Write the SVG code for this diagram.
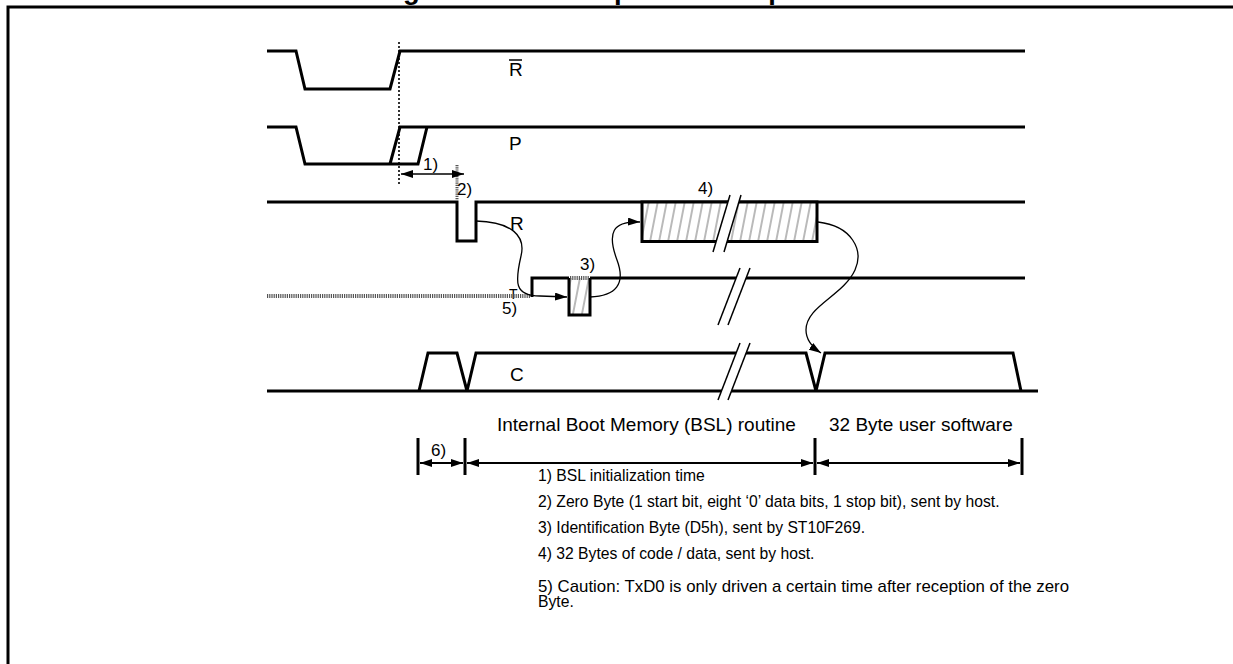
<svg xmlns="http://www.w3.org/2000/svg" width="1233" height="664" viewBox="0 0 1233 664">
<style>
.sig{fill:none;stroke:#000;stroke-width:3;stroke-linejoin:miter}
.thin{fill:none;stroke:#000;stroke-width:1.5}
.gray{fill:none;stroke:#555;stroke-width:4;stroke-dasharray:1.2 1}
.lbl{font-family:"Liberation Sans",Arial,sans-serif;font-size:19px;fill:#000}
.num{font-family:"Liberation Sans",Arial,sans-serif;font-size:17px;fill:#000}
.note{font-family:"Liberation Sans",Arial,sans-serif;font-size:15.7px;fill:#000}
.title{font-family:"Liberation Sans",Arial,sans-serif;font-size:27.5px;font-weight:bold;fill:#000}
.brk{fill:#fff;stroke:none}
</style>
<defs>
<pattern id="hatch" patternUnits="userSpaceOnUse" width="9" height="60" patternTransform="skewX(-11)">
<rect width="9" height="60" fill="#fff"/>
<line x1="4" y1="0" x2="4" y2="60" stroke="#666" stroke-width="0.9"/>
</pattern>
<marker id="ah" viewBox="0 0 12 8" refX="12" refY="4" markerWidth="12" markerHeight="8" markerUnits="userSpaceOnUse" orient="auto-start-reverse">
<path d="M0,0 L12,4 L0,8 Z" fill="#000"/>
</marker>
</defs>
<rect width="1233" height="664" fill="#fff"/>
<text class="title" x="617" y="-1.5" text-anchor="middle">Figure 7. Bootstrap loader sequence</text>
<path d="M8,664 V7 H1233" fill="none" stroke="#000" stroke-width="3"/>

<g id="sig-rstin">
<path class="sig" d="M267,51 H296 L305,89 H390 L400,51 H1025"/>
<text class="lbl" x="509" y="76">R</text>
<line x1="509" y1="60" x2="522" y2="60" stroke="#000" stroke-width="1.5"/>
</g>

<g id="sig-p">
<path class="sig" d="M267,127 H296 L305,164 H418 L427,127"/>
<path class="sig" d="M390,164 L400,127 H1025"/>
<text class="lbl" x="509" y="150">P</text>
</g>

<g id="sig-r">
<path class="sig" d="M267,202 H457 V241 H476 V202 H1025"/>
<rect x="642" y="202" width="175" height="39.5" fill="url(#hatch)" stroke="#000" stroke-width="3"/>
<text class="lbl" x="510" y="230">R</text>
</g>

<g id="sig-t">
<text x="509" y="299" font-family="'Liberation Sans',Arial,sans-serif" font-size="14">T</text>
<line class="gray" x1="267" y1="296" x2="531" y2="296"/>
<rect x="569" y="278" width="21" height="37" fill="url(#hatch)" stroke="none"/>
<path class="sig" d="M532,297 V278 H569 M569,278 V315 H590 V278 M590,278 H1025"/>
<line class="gray" x1="570" y1="278" x2="589" y2="278" stroke-width="3"/>
</g>

<g id="sig-c">
<path class="sig" d="M267,391 H1038"/>
<path class="sig" d="M419,391 L428,353 H457 L467,391 L476,353 H806 L816,391 L825,353 H1013 L1021,391"/>
<text class="lbl" x="510" y="381">C</text>
</g>

<g id="breaks">
<polygon class="brk" points="730,195 741,195 724,252 713,252"/>
<line class="thin" x1="730" y1="195" x2="713" y2="252"/>
<line class="thin" x1="741" y1="195" x2="724" y2="252"/>
<polygon class="brk" points="740,268 750,268 728,325 718,325"/>
<line class="thin" x1="740" y1="268" x2="718" y2="325"/>
<line class="thin" x1="750" y1="268" x2="728" y2="325"/>
<polygon class="brk" points="740,343 750,343 728,400 718,400"/>
<line class="thin" x1="740" y1="343" x2="718" y2="400"/>
<line class="thin" x1="750" y1="343" x2="728" y2="400"/>
</g>

<g id="connectors">
<line x1="399" y1="42" x2="399" y2="184" stroke="#000" stroke-width="1.6" stroke-dasharray="2 2"/>
<line x1="457" y1="165" x2="457" y2="200" stroke="#555" stroke-width="3" stroke-dasharray="1.2 1"/>
<line x1="401" y1="174" x2="464" y2="174" stroke="#000" stroke-width="1.5" marker-start="url(#ah)" marker-end="url(#ah)"/>
<path d="M476,221 C512,222 526,236 521,256 C515,282 514,296 540,296 L567,297" fill="none" stroke="#000" stroke-width="1.3" marker-end="url(#ah)"/>
<path d="M590,297 C616,296 626,284 617,260 C607,233 612,221 640,222" fill="none" stroke="#000" stroke-width="1.3" marker-end="url(#ah)"/>
<path d="M818,222 C852,226 864,250 855,270 C843,296 806,306 806,330 C806,340 812,347 821,353" fill="none" stroke="#000" stroke-width="1.3" marker-end="url(#ah)"/>
<g stroke="#000" stroke-width="3">
<line x1="418" y1="438" x2="418" y2="475"/>
<line x1="465" y1="438" x2="465" y2="475"/>
<line x1="815" y1="438" x2="815" y2="475"/>
<line x1="1022" y1="438" x2="1022" y2="475"/>
</g>
<g stroke="#000" stroke-width="2">
<line x1="420" y1="463" x2="463" y2="463" marker-start="url(#ah)" marker-end="url(#ah)"/>
<line x1="467" y1="463" x2="813" y2="463" marker-start="url(#ah)" marker-end="url(#ah)"/>
<line x1="817" y1="463" x2="1020" y2="463" marker-start="url(#ah)" marker-end="url(#ah)"/>
</g>
</g>

<g id="labels">
<text class="num" x="423" y="170">1)</text>
<text class="num" x="457" y="195">2)</text>
<text class="num" x="580" y="270">3)</text>
<text class="num" x="698" y="194">4)</text>
<text class="num" x="502" y="314">5)</text>
<text class="num" x="431" y="456">6)</text>
<text class="lbl" x="497" y="431" font-size="18.6">Internal Boot Memory (BSL) routine</text>
<text class="lbl" x="829" y="431" font-size="18.7">32 Byte user software</text>
</g>

<g id="notes">
<text class="note" x="538" y="481">1) BSL initialization time</text>
<text class="note" x="538" y="507">2) Zero Byte (1 start bit, eight ‘0’ data bits, 1 stop bit), sent by host.</text>
<text class="note" x="538" y="533">3) Identification Byte (D5h), sent by ST10F269.</text>
<text class="note" x="538" y="559">4) 32 Bytes of code / data, sent by host.</text>
<text class="note" x="538" y="592" textLength="531" lengthAdjust="spacingAndGlyphs">5) Caution: TxD0 is only driven a certain time after reception of the zero</text>
<text class="note" x="538" y="607">Byte.</text>
</g>
</svg>
